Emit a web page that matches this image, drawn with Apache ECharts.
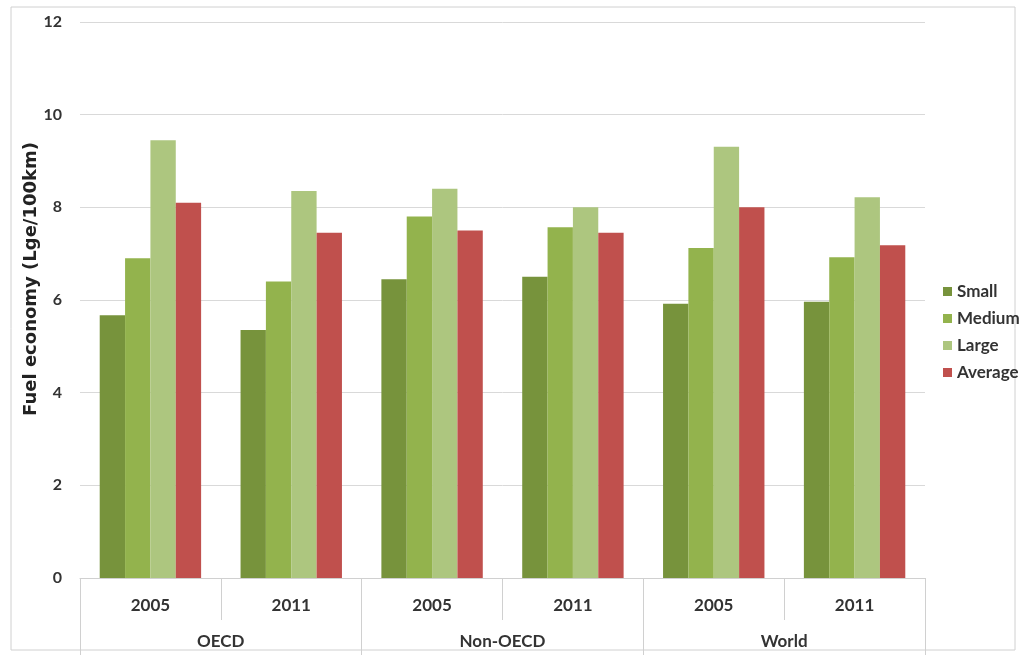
<!DOCTYPE html>
<html>
<head>
<meta charset="utf-8">
<script src="https://cdn.jsdelivr.net/npm/echarts@6/dist/echarts.min.js"></script>
<style>html,body{margin:0;padding:0;background:#fff}#c{width:1023px;height:655px}</style>
</head>
<body>
<div id="c"></div>
<script>
const years = ['2005', '2011', '2005', '2011', '2005', '2011'];
const regions = ['OECD', 'Non-OECD', 'World'];
const small = [5.67, 5.35, 6.45, 6.5, 5.92, 5.96];
const medium = [6.9, 6.4, 7.8, 7.57, 7.12, 6.92];
const large = [9.45, 8.35, 8.4, 8.0, 9.31, 8.22];
const average = [8.1, 7.45, 7.5, 7.45, 8.0, 7.18];
const yTicks = [0, 2, 4, 6, 8, 10, 12];

const chart = echarts.init(document.getElementById('c'));
const font = 'Lato, "Open Sans", sans-serif';
const mk = (name, data, color) => ({
  name, type: 'bar', data, xAxisIndex: 0, barGap: '0%', barCategoryGap: '28%',
  itemStyle: { color }
});
chart.setOption({
  animation: false,
  textStyle: { fontFamily: font },
  graphic: [{
    type: 'rect', shape: { x: 11, y: 7, width: 1004, height: 643 },
    style: { fill: 'none', stroke: '#d0d0d0', lineWidth: 1 }, silent: true, z: -1
  }],
  grid: { left: 80, right: 98, top: 22, bottom: 77 },
  legend: {
    orient: 'vertical', left: 938, top: 278, itemWidth: 9, itemHeight: 9, itemGap: 10,
    icon: 'rect', textStyle: { fontSize: 17, color: '#333', fontFamily: font, fontWeight: 'bold' },
    data: ['Small', 'Medium', 'Large', 'Average']
  },
  xAxis: [{
    type: 'category', data: years, position: 'bottom',
    axisLine: { lineStyle: { color: '#d0d0d0' } },
    axisTick: { show: true, length: 42, interval: 0, lineStyle: { color: '#d0d0d0' } },
    axisLabel: { margin: 19, fontSize: 17, color: '#333', fontWeight: 'bold', interval: 0 }
  }, {
    type: 'category', data: regions, position: 'bottom',
    axisLine: { show: false },
    axisTick: { show: true, length: 77, interval: 0, lineStyle: { color: '#d0d0d0' } },
    axisLabel: { margin: 55, fontSize: 17, color: '#333', fontWeight: 'bold', interval: 0 }
  }],
  yAxis: {
    type: 'value', min: 0, max: 12, interval: 2,
    name: 'Fuel economy (Lge/100km)', nameLocation: 'middle', nameGap: 40,
    nameMoveOverlap: false,
    nameTextStyle: { fontSize: 18, fontWeight: 'bold', color: '#222',
      fontFamily: '"DejaVu Sans", sans-serif', padding: [0, 0, 0, 42] },
    axisLine: { show: false }, axisTick: { show: false },
    axisLabel: { margin: 18, fontSize: 16, fontWeight: 'bold', color: '#333',
      formatter: v => yTicks.includes(v) ? String(v) : '' },
    splitLine: { lineStyle: { color: '#d9d9d9' } }
  },
  series: [
    mk('Small', small, '#77933c'),
    mk('Medium', medium, '#93b34d'),
    mk('Large', large, '#adc67f'),
    mk('Average', average, '#c0504d')
  ]
});
</script>
</body>
</html>
